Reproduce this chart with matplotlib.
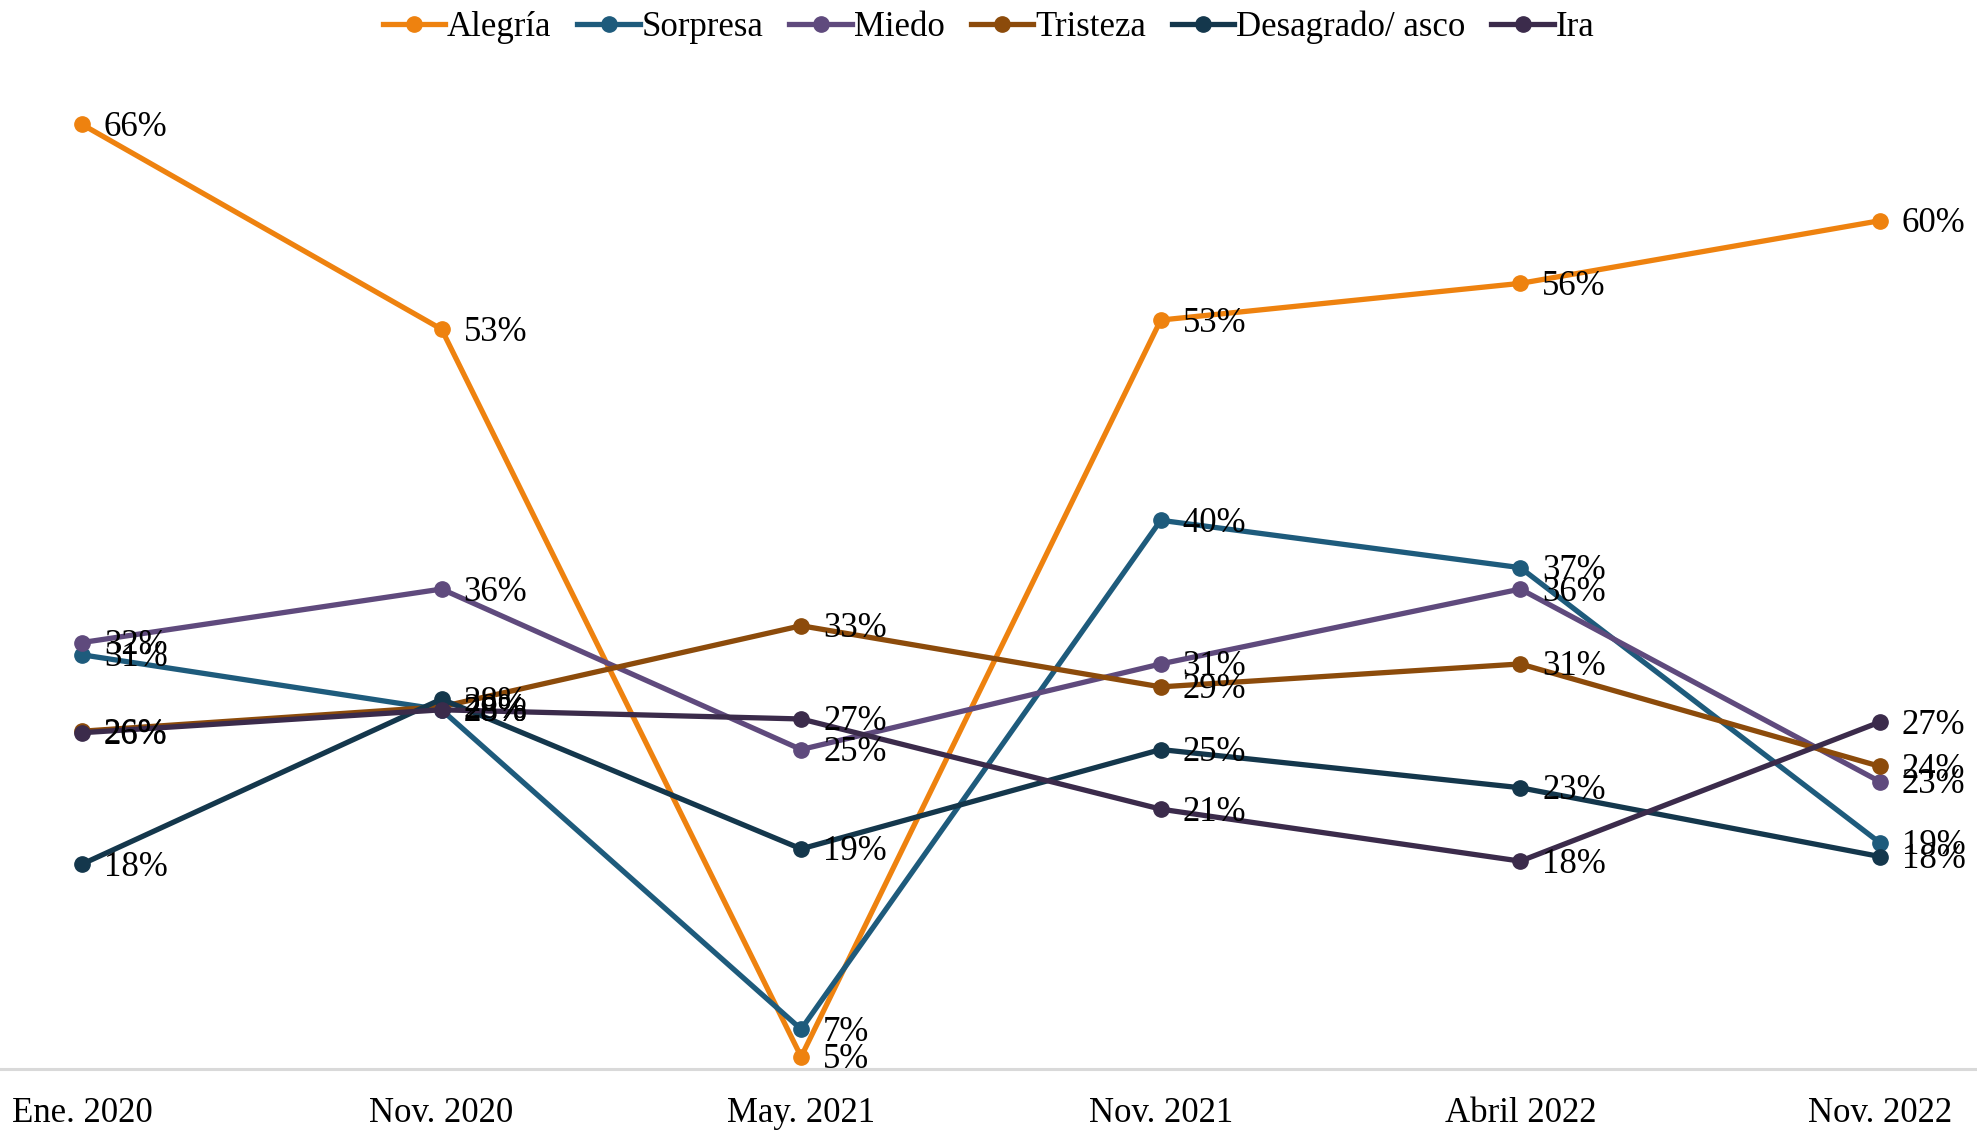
import matplotlib
matplotlib.use("Agg")
import matplotlib.pyplot as plt
import numpy as np

plt.rcParams['font.family'] = ['Liberation Serif', 'DejaVu Serif']

periods = ["Ene. 2020", "Nov. 2020", "May. 2021", "Nov. 2021", "Abril 2022", "Nov. 2022"]

alegria = [66.0, 52.6, 5.0, 53.2, 55.6, 59.7]
sorpresa = [31.3, 27.7, 6.8, 40.1, 37.0, 19.0]
miedo = [32.1, 35.6, 25.1, 30.7, 35.6, 23.0]
tristeza = [26.3, 27.9, 33.2, 29.2, 30.7, 24.0]
desagrado = [17.6, 28.4, 18.6, 25.1, 22.6, 18.1]
ira = [26.2, 27.7, 27.1, 21.2, 17.8, 26.9]

series = [
    ("Alegría", alegria, "#EE820F"),
    ("Sorpresa", sorpresa, "#1E5B7C"),
    ("Miedo", miedo, "#5F4A7D"),
    ("Tristeza", tristeza, "#8C4B0B"),
    ("Desagrado/ asco", desagrado, "#14374C"),
    ("Ira", ira, "#3B2B4B"),
]

fig = plt.figure(figsize=(19.77, 11.30), dpi=100)
ax = fig.add_axes([0.0, 0.054, 1.0, 0.89])

x = np.arange(len(periods))
for name, vals, color in series:
    ax.plot(x, vals, color=color, linewidth=3.8, marker='o', markersize=11,
            label=name, zorder=3)
    for xi, v in zip(x, vals):
        ax.annotate(f"{v:.0f}%", (xi, v), xytext=(22, -3), textcoords='offset pixels',
                    ha='left', va='center', fontsize=25, color='black', zorder=4)

ax.set_xlim(-0.228, 5.27)
ax.set_ylim(4.2, 70)
ax.set_xticks(x)
ax.set_xticklabels(periods, fontsize=25)
ax.tick_params(axis='x', length=0, pad=20)
ax.set_yticks([])
for s in ['top', 'right', 'left']:
    ax.spines[s].set_visible(False)
ax.spines['bottom'].set_color('#D9D9D9')
ax.spines['bottom'].set_linewidth(2.2)

fig.legend(loc='upper center', bbox_to_anchor=(0.5, 1.018), ncol=6, frameon=False,
           fontsize=25, handlelength=1.8, handletextpad=0.05, columnspacing=0.75)

fig.savefig("out.png", dpi=100, facecolor='white')
